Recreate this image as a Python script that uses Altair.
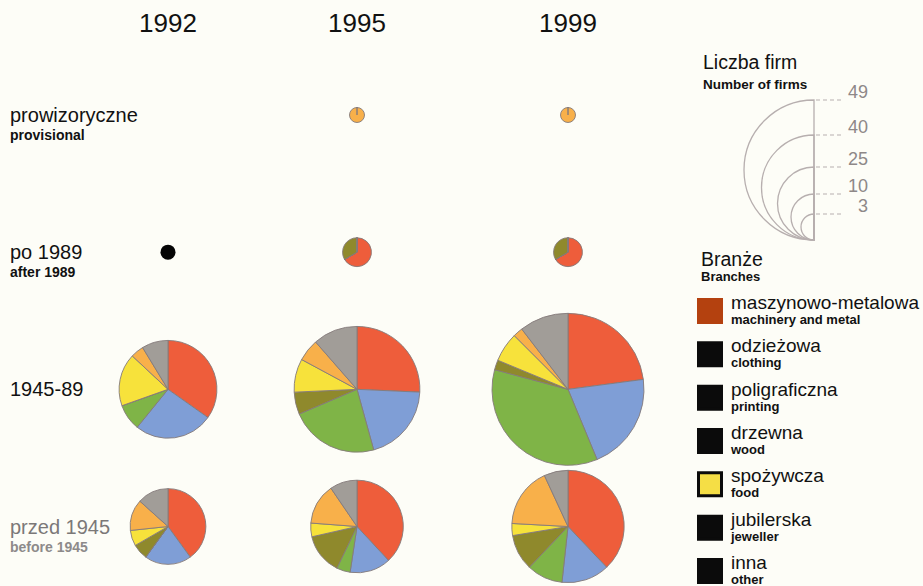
import math

import altair as alt
import pandas as pd

# ---------------------------------------------------------------- data
years = [1992, 1995, 1999]
periods = ["prowizoryczne", "po 1989", "1945-89", "przed 1945"]
periods_en = ["provisional", "after 1989", "", "before 1945"]

branches = ["maszynowo-metalowa", "odzieżowa", "poligraficzna", "drzewna",
            "spożywcza", "jubilerska", "inna"]
branches_en = ["machinery and metal", "clothing", "printing", "wood",
               "food", "jeweller", "other"]

# number of firms per branch, in the order of `branches`
firms_1992_4589 = [8, 6, 2, 0, 4, 1, 2]
firms_1992_pre45 = [6, 3, 0, 1, 1, 2, 2]
firms_1995_prov = [0, 0, 0, 0, 0, 1, 0]
firms_1995_post89 = [2, 0, 0, 1, 0, 0, 0]
firms_1995_4589 = [9, 7, 8, 2, 3, 2, 4]
firms_1995_pre45 = [8, 3, 1, 3, 1, 3, 2]
firms_1999_prov = [0, 0, 0, 0, 0, 1, 0]
firms_1999_post89 = [2, 0, 0, 1, 0, 0, 0]
firms_1999_4589 = [11, 10, 17, 1, 3, 1, 5]
firms_1999_pre45 = [11, 4, 3, 3, 1, 5, 2]

# 1992, founded after 1989: a single firm without a branch
unknown_branch = [(1992, "po 1989", 1)]

size_ticks = [3, 10, 25, 40, 49]

# ---------------------------------------------------------------- styles
FONT = "Liberation Sans"
BG = "#fdfdf7"
branch_colors = ["#ee5d3b", "#7f9ed6", "#7fb447", "#8f892c",
                 "#f7e23b", "#f8b04a", "#a19d98"]
swatch_fill = ["#b4410f", "#0b0b0b", "#0b0b0b", "#0b0b0b",
               "#f5de45", "#0b0b0b", "#0b0b0b"]
swatch_edge = ["#b4410f"] + ["#0b0b0b"] * 6
legend_gray = "#b7afaf"

# ---------------------------------------------------------------- tables
pies = [
    (1992, "1945-89", firms_1992_4589),
    (1992, "przed 1945", firms_1992_pre45),
    (1995, "prowizoryczne", firms_1995_prov),
    (1995, "po 1989", firms_1995_post89),
    (1995, "1945-89", firms_1995_4589),
    (1995, "przed 1945", firms_1995_pre45),
    (1999, "prowizoryczne", firms_1999_prov),
    (1999, "po 1989", firms_1999_post89),
    (1999, "1945-89", firms_1999_4589),
    (1999, "przed 1945", firms_1999_pre45),
]
slices = pd.DataFrame([
    {"year": y, "period": p, "branch": b, "rank": i, "firms": n}
    for y, p, counts in pies
    for i, (b, n) in enumerate(zip(branches, counts))
])
dots = pd.DataFrame([{"year": y, "period": p, "firms": n} for y, p, n in unknown_branch])
heads = pd.DataFrame({"year": years, "label": [str(y) for y in years]})
row_labels = pd.DataFrame({"period": periods, "en": periods_en})
ticks = pd.DataFrame({"n": size_ticks})
legend_items = pd.DataFrame({"branch": branches, "en": branches_en})

# ---------------------------------------------------------------- scales
x_scale = alt.Scale(domain=years, range=[168, 357, 568], zero=False, nice=False)
y_scale = alt.Scale(type="point", domain=periods, range=[115, 526.5], padding=0)
r_scale = alt.Scale(type="pow", exponent=0.6, domain=[1, 48], range=[7.5, 76],
                    zero=False, nice=False)
theta_scale = alt.Scale(domain=[0, 1], range=[0, 2 * math.pi], zero=False, nice=False)

# size legend: half circles sharing their lowest point
legend_r = [13, 23, 36.5, 52.5, 70]
legend_base = 240
legend_r_scale = alt.Scale(type="linear", domain=size_ticks, range=legend_r,
                           zero=False, nice=False)
legend_mid_scale = alt.Scale(domain=size_ticks, range=[legend_base - r for r in legend_r],
                             zero=False, nice=False)
legend_top_scale = alt.Scale(domain=size_ticks, range=[legend_base - 2 * r for r in legend_r],
                             zero=False, nice=False)
item_scale = alt.Scale(type="point", domain=branches, range=[311, 571], padding=0)

# pie centres: no stacking along x, every slice sits on its own year
X = alt.X("year:Q", scale=x_scale, axis=None, stack=False)
Y = alt.Y("period:N", scale=y_scale, axis=None)

# ---------------------------------------------------------------- pies
pie_layer = alt.Chart(slices).transform_joinaggregate(
    total="sum(firms)", groupby=["year", "period"]
).transform_window(
    cum="sum(firms)", groupby=["year", "period"], sort=[alt.SortField("rank")]
).transform_calculate(
    a0="(datum.cum - datum.firms) / datum.total",
    a1="datum.cum / datum.total",
).mark_arc(stroke="#857a7a", strokeWidth=0.9).encode(
    x=X,
    y=Y,
    theta=alt.Theta("a0:Q", scale=theta_scale, stack=False),
    theta2="a1:Q",
    radius=alt.Radius("total:Q", scale=r_scale, stack=False),
    radius2=alt.value(0),
    color=alt.Color("branch:N", scale=alt.Scale(domain=branches, range=branch_colors),
                    legend=None),
)

dot_layer = alt.Chart(dots).mark_arc(color="#050505", theta=0, theta2=2 * math.pi).encode(
    x=X, y=Y,
    radius=alt.Radius("firms:Q", scale=r_scale, stack=False),
    radius2=alt.value(0),
)

# ---------------------------------------------------------------- headings
head_layer = alt.Chart(heads).mark_text(
    font=FONT, fontSize=26, baseline="alphabetic", color="#111111"
).encode(x=X, y=alt.value(32), text="label:N")

row_pl = alt.Chart(row_labels).mark_text(
    font=FONT, fontSize=20, align="left", baseline="alphabetic", dy=7
).encode(
    x=alt.value(10), y=Y, text="period:N",
    color=alt.condition(alt.datum.period == "przed 1945",
                        alt.value("#7b7878"), alt.value("#111111")),
)
row_en = alt.Chart(row_labels).transform_filter("datum.en != ''").mark_text(
    font=FONT, fontSize=14, fontWeight="bold", align="left", baseline="alphabetic", dy=25
).encode(
    x=alt.value(10), y=Y, text="en:N",
    color=alt.condition(alt.datum.period == "przed 1945",
                        alt.value("#8d8a8a"), alt.value("#111111")),
)


def caption(text, x, y, size, bold=False):
    return alt.Chart(pd.DataFrame({"t": [text]})).mark_text(
        font=FONT, fontSize=size, fontWeight="bold" if bold else "normal",
        align="left", baseline="alphabetic", color="#111111",
    ).encode(x=alt.value(x), y=alt.value(y), text="t:N")


# ---------------------------------------------------------------- size legend
half_circles = alt.Chart(ticks).mark_arc(
    filled=False, stroke=legend_gray, strokeWidth=1.3, theta=math.pi, theta2=2 * math.pi
).encode(
    x=alt.value(814),
    y=alt.Y("n:Q", scale=legend_mid_scale, axis=None, stack=False),
    radius=alt.Radius("n:Q", scale=legend_r_scale, stack=False),
    radius2=alt.value(0),
)
tick_rules = alt.Chart(ticks).mark_rule(
    stroke=legend_gray, strokeWidth=1.2, strokeDash=[4, 3]
).encode(
    x=alt.value(816), x2=alt.value(843),
    y=alt.Y("n:Q", scale=legend_top_scale, axis=None, stack=False),
)
tick_text = alt.Chart(ticks).mark_text(
    font=FONT, fontSize=18, align="right", baseline="alphabetic", dy=-2, color="#8e8888"
).encode(
    x=alt.value(868),
    y=alt.Y("n:Q", scale=legend_top_scale, axis=None, stack=False),
    text="n:Q",
)

# ---------------------------------------------------------------- branch legend
swatches = alt.Chart(legend_items).mark_square(size=529, strokeWidth=3, opacity=1).encode(
    x=alt.value(710),
    y=alt.Y("branch:N", scale=item_scale, axis=None),
    fill=alt.Fill("branch:N", scale=alt.Scale(domain=branches, range=swatch_fill), legend=None),
    stroke=alt.Stroke("branch:N", scale=alt.Scale(domain=branches, range=swatch_edge),
                      legend=None),
)
item_pl = alt.Chart(legend_items).mark_text(
    font=FONT, fontSize=19, align="left", baseline="alphabetic", dy=-2, color="#111111"
).encode(x=alt.value(731), y=alt.Y("branch:N", scale=item_scale, axis=None), text="branch:N")
item_en = alt.Chart(legend_items).mark_text(
    font=FONT, fontSize=13, fontWeight="bold", align="left", baseline="alphabetic",
    dy=13, color="#111111"
).encode(x=alt.value(731), y=alt.Y("branch:N", scale=item_scale, axis=None), text="en:N")

chart = alt.layer(
    pie_layer, dot_layer, head_layer, row_pl, row_en,
    caption("Liczba firm", 703, 69, 19.5),
    caption("Number of firms", 703, 89, 13.5, bold=True),
    half_circles, tick_rules, tick_text,
    caption("Branże", 701, 266, 19.5),
    caption("Branches", 701, 281, 13, bold=True),
    swatches, item_pl, item_en,
).resolve_scale(
    y="independent", radius="independent"
).properties(
    width=923, height=586, padding=0,
    autosize=alt.AutoSizeParams(type="none"),
    background=BG,
).configure_view(strokeWidth=0)

chart.save("out.html", embed_options={"renderer": "svg", "actions": False})
